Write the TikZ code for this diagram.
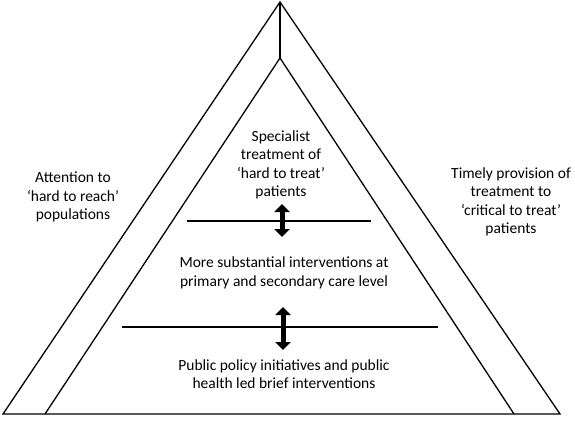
\documentclass[tikz,border=0pt]{standalone}
\usepackage{fontspec}
\setmainfont{Carlito}
\usetikzlibrary{arrows.meta}

\begin{document}
\begin{tikzpicture}[x=1pt, y=-1pt, line width=1.3pt,
    lbl/.style={align=center, font=\fontsize{15.5}{18.5}\selectfont},
    twoway/.style={line width=5pt, {Triangle[length=8pt,width=15pt]}-{Triangle[length=8pt,width=15pt]}}]
    \useasboundingbox (0,0) rectangle (575,420);

    \coordinate (top) at (280,2);
    \coordinate (outerL) at (3,414);
    \coordinate (outerR) at (560,414);
    \coordinate (innerTop) at (280,58);
    \coordinate (innerL) at (45,414);
    \coordinate (innerR) at (514,414);

    \draw (outerL) -- (top) -- (outerR) -- cycle;
    \draw (innerL) -- (innerTop) -- (innerR);
    \draw (top) -- (innerTop);

    \coordinate (upperL) at (187,221);
    \coordinate (upperR) at (371,221);
    \coordinate (lowerL) at (122,327);
    \coordinate (lowerR) at (438,327);
    \draw (upperL) -- (upperR);
    \draw (lowerL) -- (lowerR);

    \node[lbl] (reach) at (73,197) {Attention to\\‘hard to reach’\\populations};
    \node[lbl] (timely) at (511,202) {Timely provision of\\treatment to\\‘critical to treat’\\patients};
    \node[lbl] (specialist) at (281,165) {Specialist\\treatment of\\‘hard to treat’\\patients};
    \node[lbl] (substantial) at (284,273) {More substantial interventions at\\primary and secondary care level};
    \node[lbl] (policy) at (284,374) {Public policy initiatives and public\\health led brief interventions};

    \coordinate (upA) at (282,204);
    \coordinate (upB) at (282,237);
    \coordinate (lowA) at (283,307);
    \coordinate (lowB) at (283,350);
    \draw[twoway] (upA) -- (upB);
    \draw[twoway] (lowA) -- (lowB);
\end{tikzpicture}
\end{document}
